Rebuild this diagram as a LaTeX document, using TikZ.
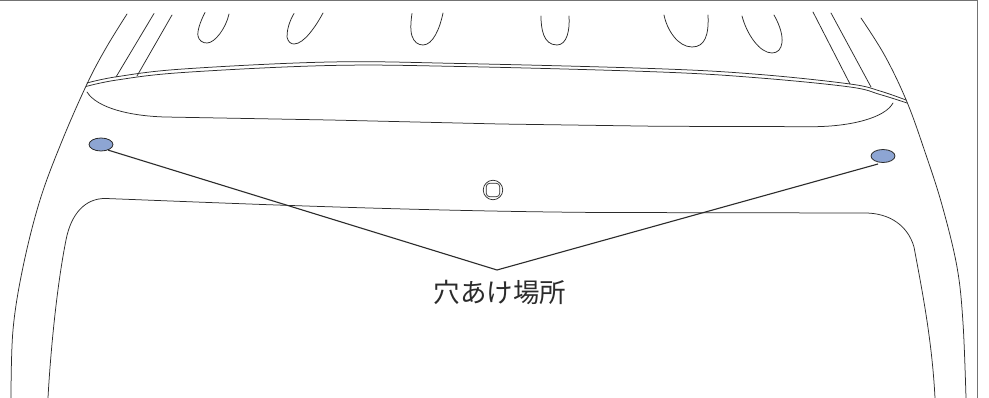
\documentclass[tikz,border=0pt]{standalone}
\usepackage{fontspec}
\newfontfamily\jpfont{Noto Sans CJK JP}
\usetikzlibrary{shapes.geometric}
\definecolor{holeblue}{HTML}{8DA5D3}
\definecolor{ink}{HTML}{2B2B2B}
\tikzset{
  outline/.style={draw=ink,line width=0.75pt,line cap=round,line join=round},
  leader/.style={draw=ink,line width=1.1pt,line join=miter},
  hole/.style={ellipse,draw=ink,line width=0.8pt,fill=holeblue,minimum width=24pt,minimum height=13pt,inner sep=0pt},
  frameline/.style={draw=black!55,line width=1.3pt},
  callout/.style={font=\jpfont\fontsize{26.5}{32}\selectfont,text=ink,inner sep=0pt}
}
\begin{document}
\begin{tikzpicture}[x=1pt,y=-1pt]
\useasboundingbox (0,0) rectangle (989,398);
\fill[white] (0,0) rectangle (989,398);
% frame
\draw[frameline] (0,0.5) -- (977.8,0.5) -- (977.8,398);
% outer body
\draw[outline] plot[smooth,tension=0.6] coordinates {(127,14) (106,48) (87,84) (62,141) (40,200) (23,267) (13,330) (11,398)};
\draw[outline] plot[smooth,tension=0.6] coordinates {(861,18) (885,56) (907,102) (925,152) (942,205) (957,267) (963,323) (966,398)};
% inner panel
\draw[outline] (48,398) .. controls (50,360) and (56,290) .. (66,240)
  .. controls (71,214) and (85,198) .. (106,198.5)
  .. controls (200,202) and (400,211) .. (600,212.5)
  -- (865,213)
  .. controls (890,213) and (908,226) .. (914,247)
  .. controls (922,290) and (932,340) .. (935,398);
% double band
\draw[outline] plot[smooth,tension=0.6] coordinates {(87,83) (117,76.7) (183,69) (330,62) (460,63.5) (660,68.8) (760,74.5) (850,84) (880,91) (906,100)};
\draw[outline] plot[smooth,tension=0.6] coordinates {(86,86.5) (117,80) (183,72.5) (330,65.5) (460,66.5) (660,72) (760,78) (850,87) (880,94.5) (907,103)};
% sweep under band
\draw[outline] (87,92) .. controls (97,108) and (130,116) .. (165,117)
  -- (330,120) -- (500,124) -- (660,126.3) -- (812,126.7)
  .. controls (850,126.7) and (885,118) .. (893,103);
% stripes
\draw[outline] (154,13.5) -- (116,77);
\draw[outline] (172,15) -- (137,76);
\draw[outline] (813,12) -- (850,84);
\draw[outline] (831,13) -- (871,87);
% U-shapes
\draw[outline] (205,12.5) .. controls (200,22) and (197,32) .. (198,36) .. controls (199,41) and (203,43) .. (207,43) .. controls (215,43) and (226,28) .. (229,14);
\draw[outline] (294,13.5) .. controls (289,22) and (287,30) .. (287,37) .. controls (288,42) and (291,44) .. (294,44) .. controls (304,44) and (316,26) .. (323,13);
\draw[outline] (412,13.5) .. controls (411,20) and (410,30) .. (412,36) .. controls (414,42) and (418,45) .. (423,45) .. controls (433,45) and (440,28) .. (443,13);
\draw[outline] (541,16) .. controls (541,28) and (543,45) .. (557,45) .. controls (567,45) and (570,30) .. (569,16);
\draw[outline] (664,15) .. controls (667,30) and (678,47) .. (692,47) .. controls (705,47) and (709,35) .. (708,15);
\draw[outline] (742,16) .. controls (747,35) and (760,53) .. (772,53) .. controls (783,53) and (787,38) .. (774,15);
% screw
\node[circle,draw=ink,line width=0.7pt,minimum size=19.5pt,inner sep=0pt] (screw) at (493,190) {};
\node[rectangle,rounded corners=3.5pt,draw=ink,line width=0.7pt,minimum size=13.5pt,inner sep=0pt] (screwhead) at (493,190) {};
% holes
\node[hole] (holeL) at (101,144.5) {};
\node[hole] (holeR) at (883,156) {};
\coordinate (apex) at (497,270);
\coordinate (leaderR) at (878,164);
\draw[leader] (holeL.-38) -- (apex) -- (leaderR);
\node[callout] (label) at (500,292) {穴あけ場所};
\end{tikzpicture}
\end{document}
